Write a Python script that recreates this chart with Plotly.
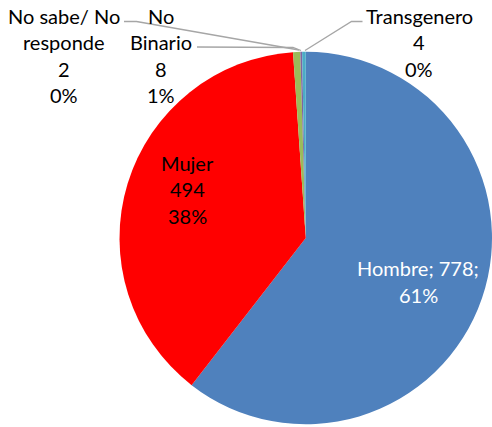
import math
import plotly.graph_objects as go

categories = ["Hombre", "Mujer", "No Binario", "No sabe/ No responde", "Transgenero"]
values = [778, 494, 8, 2, 4]
colors = ["#4F81BD", "#FF0000", "#9BBB59", "#8064A2", "#4BACC6"]

W, H = 492, 427

# percentages rounded so they sum to 100 (largest remainder)
total = sum(values)
raw = [v / total * 100 for v in values]
pct = [math.floor(r) for r in raw]
order = sorted(range(len(raw)), key=lambda i: raw[i] - pct[i], reverse=True)
for i in order[: 100 - sum(pct)]:
    pct[i] += 1


def px_x(x):
    return x / W


def px_y(y):
    return 1 - y / H


fig = go.Figure(go.Pie(
    labels=categories,
    values=values,
    marker=dict(colors=colors, line=dict(width=0)),
    sort=False,
    direction="clockwise",
    rotation=0,
    textinfo="none",
    hoverinfo="label+value+percent",
    domain=dict(x=[px_x(119.5), px_x(492)], y=[px_y(425), px_y(51)]),
    showlegend=False,
))

FONT = "Lato"
FS = 20
LH = 26.5

labels_spec = [
    ([f"{categories[0]}; {values[0]};", f"{pct[0]}%"], 418, 268, "white"),
    ([categories[1], str(values[1]), f"{pct[1]}%"], 187, 163, "black"),
    (["No", "Binario", str(values[2]), f"{pct[2]}%"], 161, 15.5, "black"),
    (["No sabe/ No", "responde", str(values[3]), f"{pct[3]}%"], 64, 15.5, "black"),
    ([categories[4], str(values[4]), f"{pct[4]}%"], 419, 15.5, "black"),
]

annotations = []
for lines, cx, y0, col in labels_spec:
    for i, t in enumerate(lines):
        annotations.append(dict(
            x=px_x(cx), y=px_y(y0 + i * LH), xref="paper", yref="paper",
            text=t, showarrow=False, xanchor="center", yanchor="middle",
            font=dict(family=FONT, size=FS, color=col),
        ))

leaders = [
    [(124, 21.5), (136.5, 21.5), (299, 50)],
    [(197, 47), (293, 47.5), (301, 50.5)],
    [(305, 50.5), (351.5, 21.5), (362.5, 21.5)],
]
shapes = []
for pts in leaders:
    path = "M " + " L ".join(f"{px_x(x)},{px_y(y)}" for x, y in pts)
    shapes.append(dict(type="path", path=path, xref="paper", yref="paper",
                       line=dict(color="#A6A6A6", width=1.3)))

fig.update_layout(
    width=W, height=H,
    margin=dict(l=0, r=0, t=0, b=0),
    paper_bgcolor="white",
    plot_bgcolor="white",
    annotations=annotations,
    shapes=shapes,
)

fig.write_html(
    "out.html",
    config={"displayModeBar": False},
    post_script="document.body.style.margin='0';document.body.style.overflow='hidden';",
)
